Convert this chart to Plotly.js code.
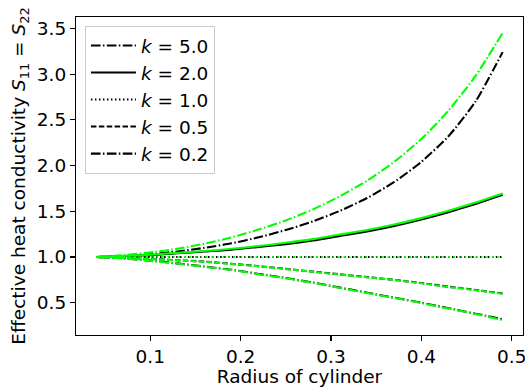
<!DOCTYPE html>
<html>
<head>
<meta charset="utf-8">
<script src="https://cdn.plot.ly/plotly-3.0.1.min.js"></script>
<style>html,body{margin:0;padding:0;background:#fff;}#chart{width:525px;height:387px;}</style>
</head>
<body>
<div id="chart"></div>
<script>
// Radius of cylinder (x)
var radius = [0.04,0.07,0.10,0.13,0.16,0.19,0.22,0.25,0.28,0.31,0.34,0.37,0.40,0.43,0.46,0.49];

// Black curves
var k50_black = [1.00,1.01,1.03,1.06,1.10,1.15,1.215,1.295,1.39,1.505,1.645,1.82,2.04,2.32,2.70,3.24];
var k20_black = [1.00,1.01,1.02,1.04,1.06,1.08,1.11,1.14,1.18,1.23,1.28,1.34,1.41,1.49,1.58,1.68];
var k10_black = [1.00,1.00,1.00,1.00,1.00,1.00,1.00,1.00,1.00,1.00,1.00,1.00,1.00,1.00,1.00,1.00];
var k05_black = [1.00,0.99,0.98,0.965,0.95,0.925,0.90,0.87,0.84,0.81,0.78,0.75,0.715,0.675,0.64,0.60];
var k02_black = [1.00,0.985,0.96,0.93,0.895,0.86,0.815,0.77,0.72,0.665,0.61,0.555,0.50,0.44,0.38,0.32];

// Green curves
var k50_green = [1.00,1.02,1.05,1.09,1.145,1.215,1.30,1.40,1.52,1.665,1.835,2.04,2.29,2.60,2.98,3.45];
var k20_green = [1.00,1.01,1.025,1.045,1.065,1.09,1.12,1.155,1.195,1.245,1.295,1.355,1.425,1.505,1.595,1.695];
var k10_green = [1.00,1.00,1.00,1.00,1.00,1.00,1.00,1.00,1.00,1.00,1.00,1.00,1.00,1.00,1.00,1.00];
var k05_green = [1.00,0.99,0.978,0.963,0.948,0.923,0.898,0.868,0.838,0.808,0.778,0.748,0.712,0.672,0.637,0.598];
var k02_green = [1.00,0.985,0.958,0.928,0.893,0.857,0.812,0.767,0.717,0.662,0.607,0.552,0.497,0.437,0.376,0.31];

var labels = ['<i>k</i> = 5.0','<i>k</i> = 2.0','<i>k</i> = 1.0','<i>k</i> = 0.5','<i>k</i> = 0.2'];
var blackSeries = [k50_black,k20_black,k10_black,k05_black,k02_black];
var greenSeries = [k50_green,k20_green,k10_green,k05_green,k02_green];
var dashes = ['9.6px,2.4px,1.5px,2.4px','solid','1.5px,2.5px','5.5px,2.4px','9.6px,2.4px,1.5px,2.4px'];

var LW = 2.08;
var traces = [];
for (var i = 0; i < 5; i++) {
  traces.push({
    x: radius, y: blackSeries[i], type: 'scatter', mode: 'lines',
    name: labels[i], legendgroup: 'g' + i, showlegend: true,
    line: {color: '#000000', width: LW, dash: dashes[i], shape: 'spline', smoothing: 0.6}
  });
}
for (var j = 0; j < 5; j++) {
  traces.push({
    x: radius, y: greenSeries[j], type: 'scatter', mode: 'lines',
    name: labels[j], legendgroup: 'g' + j, showlegend: false,
    line: {color: '#00ff00', width: LW, dash: (j === 2 ? '1.5px,4px' : dashes[j]), shape: 'spline', smoothing: 0.6}
  });
}

var fontFam = 'DejaVu Sans, sans-serif';
var FS = 18.5;
var layout = {
  width: 525, height: 387,
  margin: {l: 76, r: 2, t: 17, b: 52, pad: 0},
  paper_bgcolor: '#ffffff', plot_bgcolor: '#ffffff',
  font: {family: fontFam, size: FS, color: '#000000'},
  showlegend: true,
  legend: {
    x: 0.02, y: 0.972, xanchor: 'left', yanchor: 'top',
    bgcolor: 'rgba(255,255,255,0.8)', bordercolor: '#cccccc', borderwidth: 1,
    font: {family: fontFam, size: FS, color: '#000000'},
    tracegroupgap: 5, traceorder: 'normal', itemwidth: 45
  },
  xaxis: {
    range: [0.0178, 0.5125], autorange: false,
    tickvals: [0.1,0.2,0.3,0.4,0.5], ticktext: ['0.1','0.2','0.3','0.4','0.5'],
    ticks: 'outside', ticklen: 5, tickwidth: 1.1, tickcolor: '#000',
    ticklabeloverflow: 'allow',
    showline: true, linecolor: '#000', linewidth: 1.1, mirror: true,
    showgrid: false, zeroline: false,
    tickfont: {family: fontFam, size: FS, color: '#000'},
    title: {text: 'Radius of cylinder', font: {family: fontFam, size: FS, color: '#000'}, standoff: 0}
  },
  yaxis: {
    range: [0.147, 3.624], autorange: false,
    tickvals: [0.5,1.0,1.5,2.0,2.5,3.0,3.5], ticktext: ['0.5','1.0','1.5','2.0','2.5','3.0','3.5'],
    ticks: 'outside', ticklen: 5, tickwidth: 1.1, tickcolor: '#000',
    showline: true, linecolor: '#000', linewidth: 1.1, mirror: true,
    showgrid: false, zeroline: false,
    tickfont: {family: fontFam, size: FS, color: '#000'},
    title: {text: 'Effective heat conductivity <i>S</i><sub>11</sub> = <i>S</i><sub>22</sub>', font: {family: fontFam, size: FS, color: '#000'}, standoff: 6}
  }
};

Plotly.newPlot('chart', traces, layout, {displayModeBar: false, staticPlot: true});
</script>
</body>
</html>
